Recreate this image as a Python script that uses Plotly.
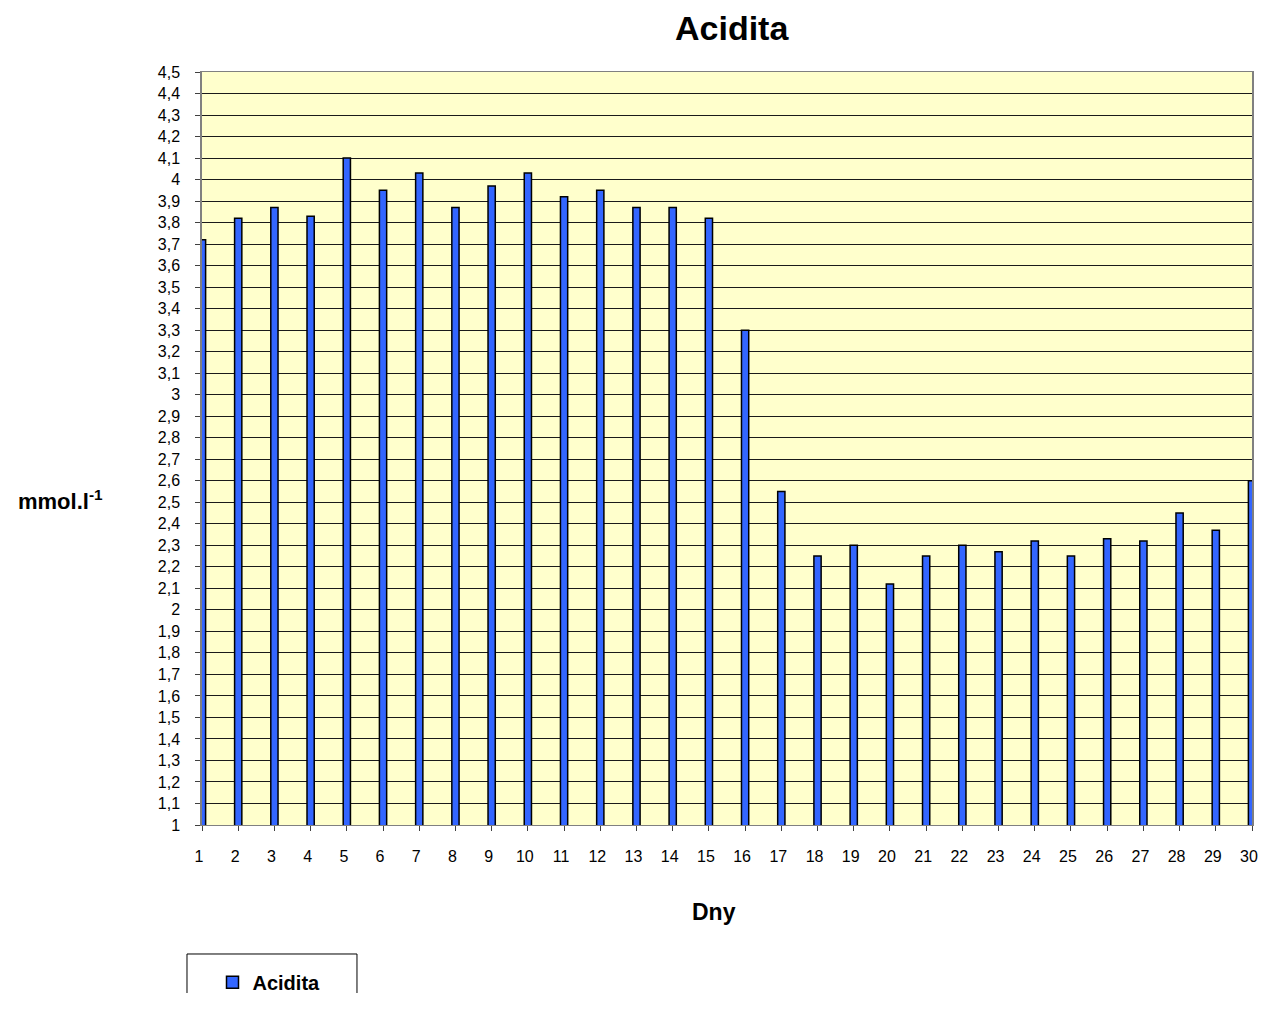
import plotly.graph_objects as go

days = list(range(1, 31))
acidita = [3.72, 3.82, 3.87, 3.83, 4.10, 3.95, 4.03, 3.87, 3.97, 4.03,
           3.92, 3.95, 3.87, 3.87, 3.82, 3.30, 2.55, 2.25, 2.30, 2.12,
           2.25, 2.30, 2.27, 2.32, 2.25, 2.33, 2.32, 2.45, 2.37, 2.60]
y_ticks = [round(1 + 0.1 * i, 1) for i in range(36)]
y_labels = [("%g" % v).replace(".", ",") for v in y_ticks]

FONT = "Liberation Sans, Arial, sans-serif"

fig = go.Figure()
fig.add_trace(go.Bar(
    x=days, y=acidita, name="<b>Acidita</b>", width=0.2,
    marker=dict(color="#3366FF", line=dict(color="black", width=1.5)),
))

fig.update_layout(
    width=1250, height=985,
    paper_bgcolor="white", plot_bgcolor="#FFFFCC",
    margin=dict(l=194, r=6, t=64, b=168, autoexpand=False),
    font=dict(family=FONT, size=15, color="black"),
    showlegend=True,
    legend=dict(x=0.01, xanchor="left", y=-0.183, yanchor="top",
                bgcolor="rgba(0,0,0,0)", borderwidth=0,
                font=dict(size=20, family=FONT), itemwidth=30),
    xaxis=dict(range=[1, 30], tickmode="array", tickvals=days, automargin=False,
               ticks="outside", ticklen=5, tickcolor="#404040",
               showgrid=False, zeroline=False, showline=True, linecolor="#808080",
               linewidth=1, mirror=True, tickfont=dict(size=16), ticklabelstandoff=12,
               ticklabelshift=-3, ticklabeloverflow="allow"),
    yaxis=dict(range=[1, 4.5], tickmode="array", tickvals=y_ticks, ticktext=y_labels,
               automargin=False,
               ticks="outside", ticklen=5, tickcolor="#404040",
               showgrid=True, gridcolor="#1a1a1a", gridwidth=1,
               zeroline=False, showline=True, linecolor="#808080", linewidth=1.5, mirror=True,
               tickfont=dict(size=16), ticklabelstandoff=12, ticklabeloverflow="allow"),
    shapes=[dict(type="rect", xref="paper", yref="paper",
                 x0=-0.0143, x1=0.1476, y0=-0.26, y1=-0.1713,
                 line=dict(color="black", width=1), fillcolor="rgba(0,0,0,0)")],
    annotations=[
        dict(text="<b>Acidita</b>", xref="paper", yref="paper", x=0.505, y=1.0584,
             xanchor="center", yanchor="middle", showarrow=False, font=dict(size=34)),
        dict(text="<b>Dny</b>", xref="paper", yref="paper", x=0.4876, y=-0.1155,
             xanchor="center", yanchor="middle", showarrow=False, font=dict(size=23)),
        dict(text="<b>mmol.l<sup>-1</sup></b>", xref="paper", yref="paper", x=-0.135, y=0.4316,
             xanchor="center", yanchor="middle", showarrow=False, font=dict(size=22)),
    ],
)

fig.write_html("out.html")
